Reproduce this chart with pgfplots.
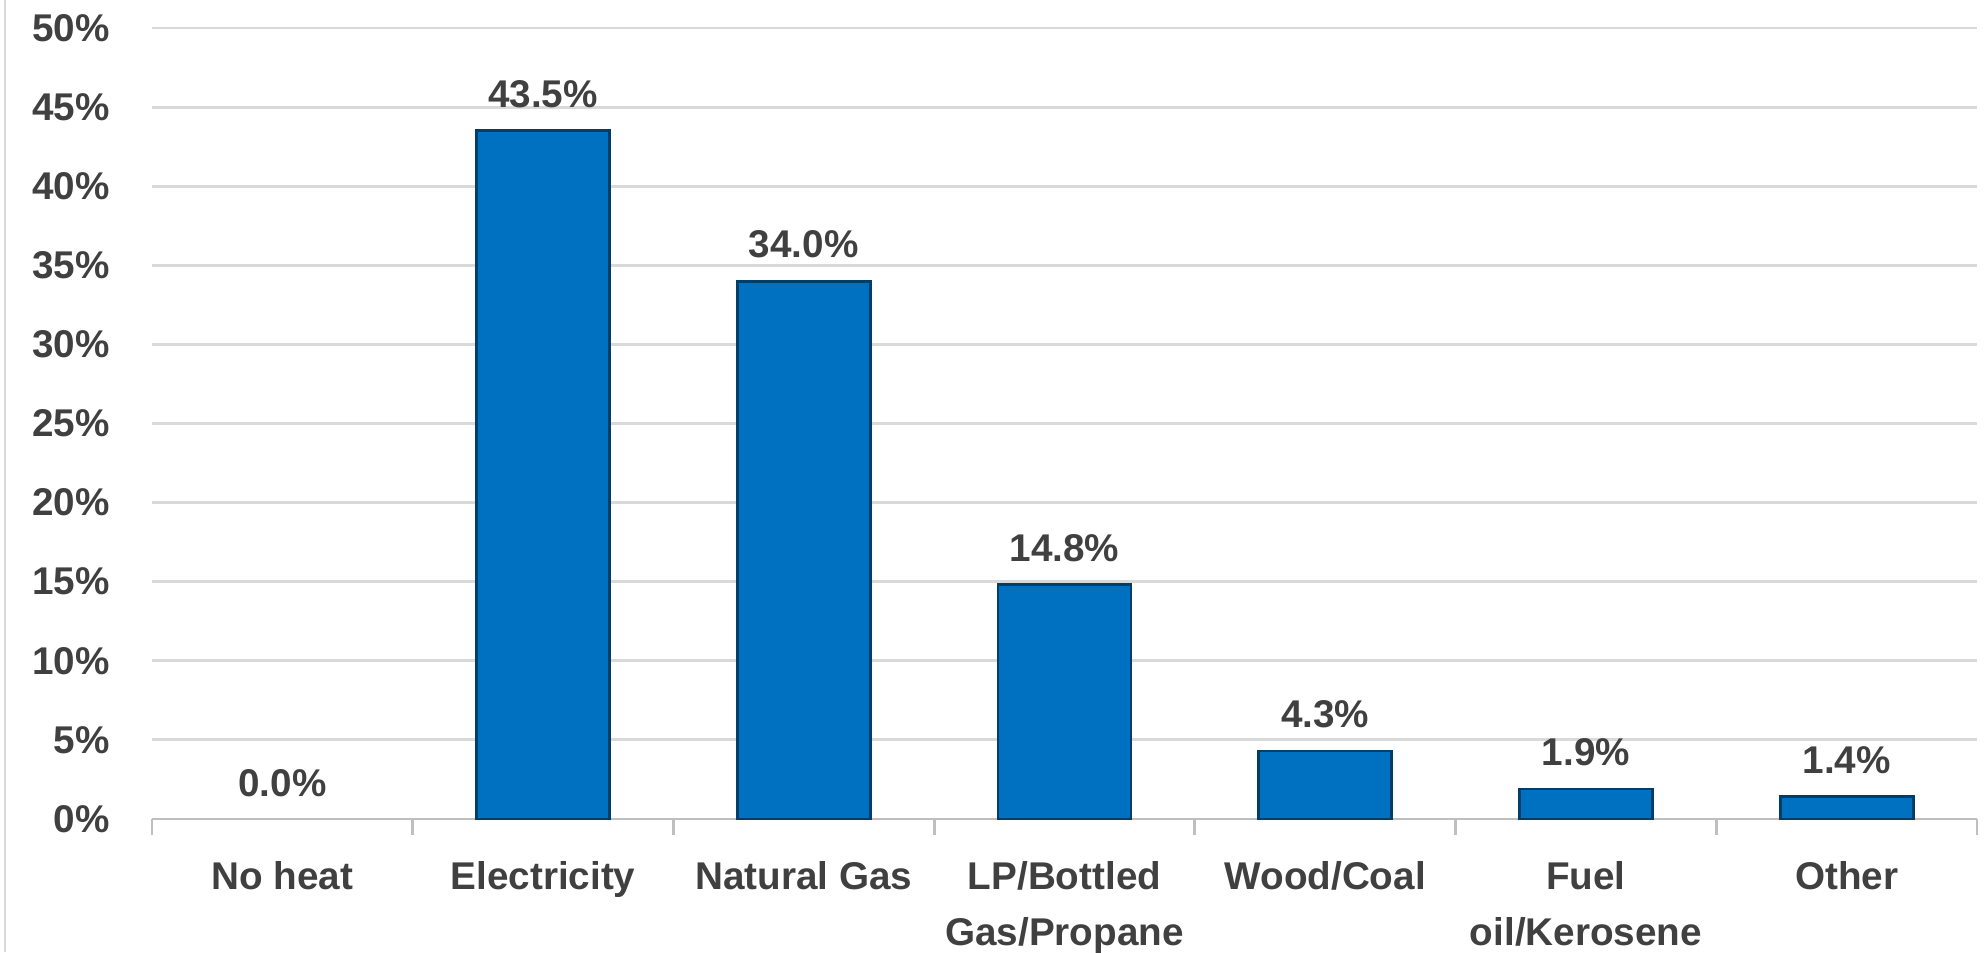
\documentclass[border=0pt]{standalone}
\usepackage{fontspec}
\setmainfont{Liberation Sans}
\usepackage{pgfplots}
\pgfplotsset{compat=1.18}
\definecolor{barblue}{RGB}{0,112,192}
\definecolor{txt}{RGB}{64,64,64}
\definecolor{gridc}{RGB}{217,217,217}
\definecolor{axc}{RGB}{191,191,191}
\begin{document}
\begin{tikzpicture}
\begin{axis}[
  scale only axis, width=18.25cm, height=7.91cm,
  ymin=0, ymax=50, ytick={0,5,...,50},
  xmin=-0.5, xmax=6.5,
  xtick={0,...,6},
  xticklabels={No heat,Electricity,Natural Gas,LP/Bottled\\Gas/Propane,Wood/Coal,Fuel\\oil/Kerosene,Other},
  minor xtick={-0.5,0.5,...,6.5},
  major x tick style={draw=none},
  minor x tick style={draw=axc, line width=0.8pt},
  minor tick length=0.16cm,
  tick align=outside,
  xtick pos=bottom, ytick pos=left,
  ytick style={draw=none},
  axis x line*=bottom, axis y line*=left,
  x axis line style={draw=axc, line width=0.8pt, -},
  y axis line style={draw=none},
  ymajorgrids, grid style={gridc, line width=0.8pt},
  /pgf/number format/assume math mode=true,
  yticklabel={\pgfmathprintnumber{\tick}\%},
  yticklabel style={font=\fontsize{11}{13}\selectfont\bfseries, text=txt, xshift=-0.15cm},
  xticklabel style={font=\fontsize{11}{16}\selectfont\bfseries, text=txt, align=center, yshift=-0.15cm},
  clip=false,
]
\addplot[ybar, bar shift=0pt, bar width=1.33cm, fill=barblue, draw=barblue!55!black, line width=0.8pt,
  nodes near coords={\pgfmathprintnumber[fixed,fixed zerofill,precision=1]{\pgfplotspointmeta}\%},
  every node near coord/.append style={font=\fontsize{11}{13}\selectfont\bfseries, text=txt, yshift=0.1cm}]
  coordinates {(1,43.5) (2,34.0) (3,14.8) (4,4.3) (5,1.9) (6,1.4)};
\addplot[ybar, bar shift=0pt, bar width=1.33cm, draw=none, fill=none,
  nodes near coords={\pgfmathprintnumber[fixed,fixed zerofill,precision=1]{\pgfplotspointmeta}\%},
  every node near coord/.append style={font=\fontsize{11}{13}\selectfont\bfseries, text=txt, yshift=0.1cm}]
  coordinates {(0,0)};
\end{axis}
\draw[gridc, line width=0.6pt] (-1.47,-1.33) -- (-1.47,8.19);
\pgfresetboundingbox
\path[use as bounding box] (-1.52,-1.33) rectangle (18.33,8.19);
\end{tikzpicture}
\end{document}
